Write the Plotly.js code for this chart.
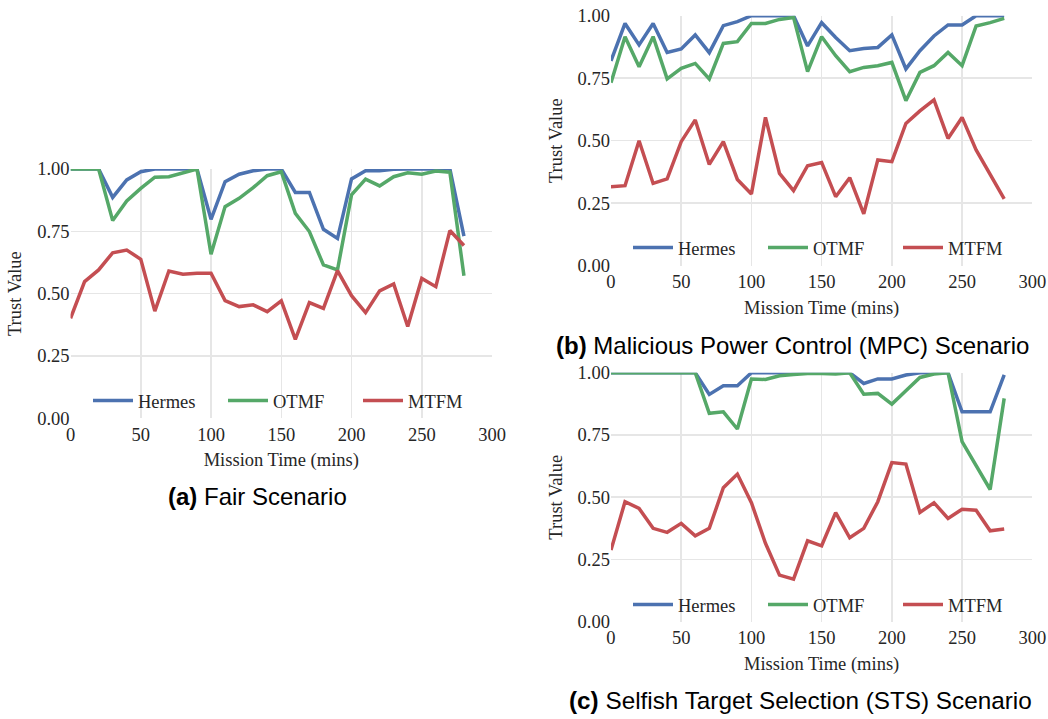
<!DOCTYPE html>
<html>
<head>
<meta charset="utf-8">
<script src="https://cdn.plot.ly/plotly-3.0.1.min.js"></script>
<style>html,body{margin:0;padding:0;background:#fff;}#chart{width:1048px;height:719px;}</style>
</head>
<body>
<div id="chart"></div>
<script>
const missionTime = [0,10,20,30,40,50,60,70,80,90,100,110,120,130,140,150,160,170,180,190,200,210,220,230,240,250,260,270,280];
const seriesNames = ['Hermes','OTMF','MTFM'];

// (a) Fair Scenario
const fairHermes = [1.0,1.0,1.0,0.886,0.956,0.989,1.0,1.0,1.0,1.0,0.798,0.949,0.979,0.993,1.0,1.0,0.906,0.906,0.758,0.721,0.960,0.993,0.993,0.999,1.0,1.0,1.0,1.0,0.731];
const fairOTMF   = [1.0,1.0,1.0,0.793,0.872,0.922,0.967,0.969,0.985,1.0,0.658,0.849,0.882,0.925,0.973,0.989,0.822,0.749,0.615,0.595,0.896,0.959,0.932,0.969,0.985,0.979,0.992,0.987,0.572];
const fairMTFM   = [0.401,0.548,0.595,0.664,0.675,0.638,0.430,0.591,0.578,0.582,0.582,0.472,0.448,0.455,0.428,0.471,0.317,0.464,0.441,0.592,0.492,0.424,0.511,0.539,0.368,0.561,0.528,0.753,0.693];

// (b) Malicious Power Control (MPC) Scenario
const mpcHermes = [0.819,0.969,0.883,0.969,0.853,0.867,0.923,0.852,0.960,0.976,1.0,1.0,1.0,1.0,0.879,0.972,0.913,0.860,0.869,0.873,0.923,0.787,0.860,0.919,0.963,0.963,1.0,1.0,1.0];
const mpcOTMF   = [0.732,0.916,0.796,0.916,0.747,0.789,0.809,0.747,0.889,0.896,0.969,0.969,0.985,0.993,0.776,0.916,0.840,0.776,0.793,0.800,0.813,0.660,0.773,0.800,0.853,0.800,0.959,0.972,0.989];
const mpcMTFM   = [0.316,0.320,0.500,0.329,0.347,0.496,0.583,0.405,0.496,0.345,0.287,0.593,0.369,0.300,0.400,0.413,0.276,0.352,0.207,0.423,0.416,0.569,0.619,0.663,0.509,0.593,0.463,0.363,0.267];

// (c) Selfish Target Selection (STS) Scenario
const stsHermes = [1.0,1.0,1.0,1.0,1.0,1.0,1.0,0.913,0.948,0.948,1.0,1.0,1.0,1.0,1.0,1.0,1.0,1.0,0.957,0.975,0.975,0.991,1.0,1.0,1.0,0.843,0.843,0.843,0.991];
const stsOTMF   = [1.0,1.0,1.0,1.0,1.0,1.0,1.0,0.837,0.843,0.774,0.975,0.973,0.988,0.993,0.997,0.997,0.995,1.0,0.914,0.917,0.874,0.928,0.981,0.995,1.0,0.723,0.625,0.531,0.897];
const stsMTFM   = [0.288,0.482,0.455,0.375,0.359,0.395,0.345,0.375,0.538,0.593,0.478,0.315,0.187,0.171,0.325,0.305,0.438,0.337,0.375,0.482,0.639,0.633,0.439,0.478,0.415,0.452,0.448,0.365,0.372];

const yTicks = [0,0.25,0.5,0.75,1.0];
const xTicks = [0,50,100,150,200,250,300];
const captions = ['<b>(a)</b> Fair Scenario','<b>(b)</b> Malicious Power Control (MPC) Scenario','<b>(c)</b> Selfish Target Selection (STS) Scenario'];

const colors = ['#4c72b0','#55a868','#c44e52'];
const serif = 'Liberation Serif, Times New Roman, serif';
const sans = 'Liberation Sans, Arial, sans-serif';
const txt = '#262626';

const panels = [
  {data:[fairHermes,fairOTMF,fairMTFM], xa:'x', ya:'y', leg:'legend'},
  {data:[mpcHermes,mpcOTMF,mpcMTFM], xa:'x2', ya:'y2', leg:'legend2'},
  {data:[stsHermes,stsOTMF,stsMTFM], xa:'x3', ya:'y3', leg:'legend3'}
];

const traces = [];
panels.forEach(p => {
  p.data.forEach((vals,i) => {
    traces.push({
      x: missionTime, y: vals, name: seriesNames[i], type:'scatter', mode:'lines',
      line:{color:colors[i], width:3.5}, xaxis:p.xa, yaxis:p.ya, legend:p.leg, cliponaxis:false
    });
  });
});

function xa(domain, anchor){
  return {domain:domain, anchor:anchor, range:[0,300], tickvals:xTicks, showgrid:true, gridcolor:'#e6e6e6', gridwidth:1.5,
    zeroline:false, showline:false, ticks:'', ticklen:0, ticklabelstandoff:3, tickfont:{family:serif,size:18.5,color:txt},
    title:{text:'Mission Time (mins)', font:{family:serif,size:18.5,color:txt}, standoff:9}, automargin:false, fixedrange:true};
}
function ya(domain, anchor){
  return {domain:domain, anchor:anchor, range:[0,1], tickvals:yTicks, tickformat:'.2f', showgrid:true, gridcolor:'#e6e6e6', gridwidth:1.5,
    zeroline:false, showline:false, ticks:'', ticklen:0, tickfont:{family:serif,size:18.5,color:txt},
    title:{text:'Trust Value', font:{family:serif,size:18.5,color:txt}, standoff:10}, automargin:false, fixedrange:true};
}
function leg(x,y){
  return {orientation:'h', x:x, y:y, xanchor:'left', yanchor:'middle', bgcolor:'rgba(0,0,0,0)',
    font:{family:serif,size:18.5,color:txt}, itemwidth:40, entrywidth:80, entrywidthmode:'pixels', tracegroupgap:0};
}

const layout = {
  width:1048, height:719, margin:{l:0,r:0,t:0,b:0,autoexpand:false}, paper_bgcolor:'#fff', plot_bgcolor:'#fff', showlegend:true,
  xaxis: xa([0.0673,0.4695],'y'), yaxis: ya([0.4182,0.7650],'x'),
  xaxis2: xa([0.5830,0.9850],'y2'), yaxis2: ya([0.6305,0.9782],'x2'),
  xaxis3: xa([0.5830,0.9850],'y3'), yaxis3: ya([0.1353,0.4816],'x3'),
  legend: leg(88/1048,0.4423), legend2: leg(628/1048,0.655), legend3: leg(628/1048,0.1586),
  annotations:[
    {text:captions[0], x:257/1048, y:1-496/719, xref:'paper', yref:'paper', showarrow:false, xanchor:'center', yanchor:'middle', font:{family:sans,size:24,color:'#000'}},
    {text:captions[1], x:792/1048, y:1-345/719, xref:'paper', yref:'paper', showarrow:false, xanchor:'center', yanchor:'middle', font:{family:sans,size:24,color:'#000'}},
    {text:captions[2], x:800/1048, y:1-700/719, xref:'paper', yref:'paper', showarrow:false, xanchor:'center', yanchor:'middle', font:{family:sans,size:24.3,color:'#000'}}
  ]
};

Plotly.newPlot('chart', traces, layout, {staticPlot:true, displayModeBar:false});
</script>
</body>
</html>
